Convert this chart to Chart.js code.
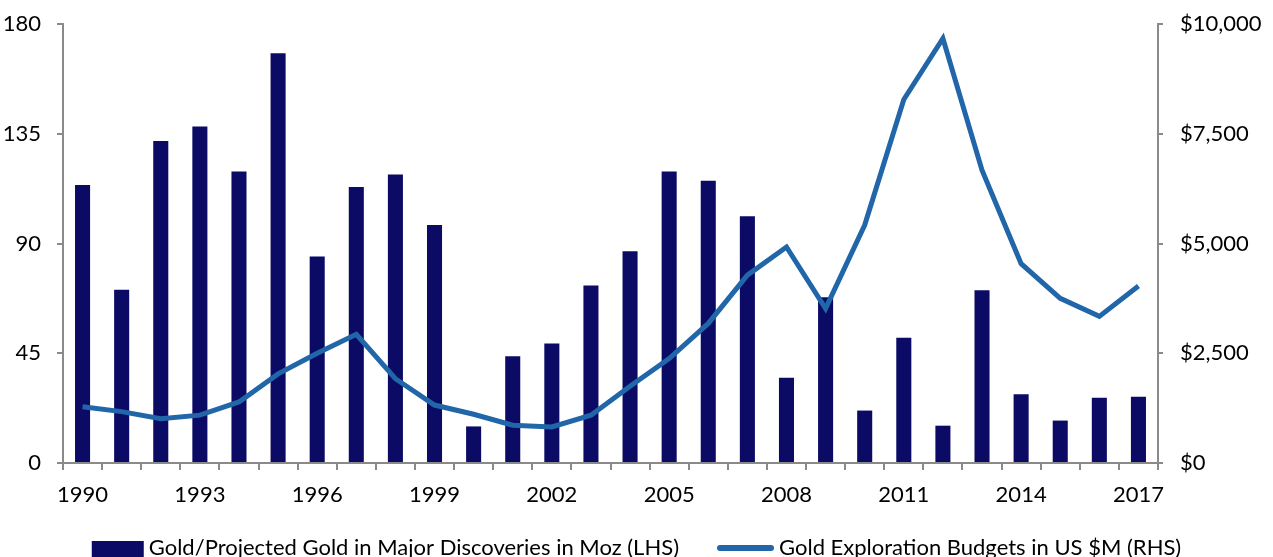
<!DOCTYPE html>
<html>
<head>
<meta charset="utf-8">
<script src="https://cdn.jsdelivr.net/npm/chart.js@4/dist/chart.umd.min.js"></script>
<style>
  html, body { margin: 0; padding: 0; background: #ffffff; }
  #wrap { width: 1273px; height: 557px; }
</style>
</head>
<body>
<div id="wrap"><canvas id="c" width="1273" height="557"></canvas></div>
<script>
// Years on the category axis
const years = ['1990','1991','1992','1993','1994','1995','1996','1997','1998','1999',
               '2000','2001','2002','2003','2004','2005','2006','2007','2008','2009',
               '2010','2011','2012','2013','2014','2015','2016','2017'];

// Gold / projected gold in major discoveries, Moz (left axis)
const discoveriesMoz = [114, 71, 132, 138, 119.5, 168, 84.7, 113.2, 118.3, 97.6,
                        15, 43.8, 49, 72.8, 86.8, 119.5, 115.7, 101.2, 35, 68,
                        21.5, 51.4, 15.3, 70.8, 28.2, 17.4, 26.8, 27.2];

// Gold exploration budgets, US $M (right axis)
const budgetsUSDm = [1280, 1170, 1010, 1090, 1390, 2030, 2500, 2930, 1920, 1320,
                     1110, 860, 820, 1090, 1750, 2380, 3180, 4280, 4920, 3520,
                     5420, 8280, 9670, 6670, 4540, 3750, 3340, 4030];

// Axis tick values
const leftTicks = [0, 45, 90, 135, 180];
const rightTicks = [0, 2500, 5000, 7500, 10000];
const yearLabelStep = 3;

const seriesNames = ['Gold/Projected Gold in Major Discoveries in Moz (LHS)',
                     'Gold Exploration Budgets in US $M (RHS)'];

const NAVY = '#0b0b66';
const BLUE = '#2166a8';
const AXIS = '#8a8a8a';
const FONT = 'Lato';
const FONT_SIZE = 22;

// Legend drawn along the bottom edge, centred on the canvas
const bottomLegend = {
  id: 'bottomLegend',
  afterDraw(chart) {
    const ctx = chart.ctx;
    ctx.save();
    ctx.font = FONT_SIZE + 'px ' + FONT;
    ctx.textBaseline = 'alphabetic';
    const sw1 = 52, sw2 = 57, gapText = 5, gapItems = 38;
    const t1 = ctx.measureText(seriesNames[0]).width;
    const t2 = ctx.measureText(seriesNames[1]).width;
    const total = sw1 + gapText + t1 + gapItems + sw2 + gapText + t2;
    let x = chart.width / 2 - total / 2;
    const baseY = 555;
    // bar swatch
    ctx.fillStyle = NAVY;
    ctx.fillRect(x, 541, sw1, 20);
    x += sw1 + gapText;
    ctx.fillStyle = '#000';
    ctx.fillText(seriesNames[0], x, baseY);
    x += t1 + gapItems;
    // line swatch
    ctx.strokeStyle = BLUE;
    ctx.lineWidth = 6;
    ctx.lineCap = 'round';
    ctx.beginPath();
    ctx.moveTo(x + 3, 548);
    ctx.lineTo(x + sw2 - 3, 548);
    ctx.stroke();
    x += sw2 + gapText;
    ctx.fillText(seriesNames[1], x, baseY);
    ctx.restore();
  }
};

const tickFont = { family: FONT, size: FONT_SIZE };

// Fixed axis box sizes so the plot area sits where intended
const LEFT_AXIS_W = 63, RIGHT_AXIS_W = 115, X_AXIS_H = 94;

new Chart(document.getElementById('c'), {
  type: 'bar',
  data: {
    labels: years,
    datasets: [
      {
        type: 'bar',
        label: seriesNames[0],
        data: discoveriesMoz,
        backgroundColor: NAVY,
        borderWidth: 0,
        barPercentage: 0.385,
        categoryPercentage: 1.0,
        yAxisID: 'yL',
        order: 2
      },
      {
        type: 'line',
        label: seriesNames[1],
        data: budgetsUSDm,
        borderColor: BLUE,
        backgroundColor: BLUE,
        borderWidth: 5,
        pointRadius: 0,
        tension: 0,
        fill: false,
        yAxisID: 'yR',
        order: 1
      }
    ]
  },
  options: {
    responsive: false,
    devicePixelRatio: 1,
    animation: false,
    layout: { padding: { left: 0, right: 0, top: 24, bottom: 0 } },
    plugins: {
      legend: { display: false },
      tooltip: { enabled: false }
    },
    scales: {
      x: {
        offset: true,
        afterFit: a => { a.height = X_AXIS_H; a.paddingLeft = 0; a.paddingRight = 0; },
        grid: {
          offset: true,
          drawOnChartArea: false,
          drawTicks: true,
          tickLength: 7,
          color: AXIS,
          lineWidth: 2
        },
        border: { color: AXIS, width: 2 },
        ticks: {
          autoSkip: false,
          maxRotation: 0,
          minRotation: 0,
          padding: 12,
          color: '#000',
          font: tickFont,
          callback: (v, i) => (i % yearLabelStep === 0 ? years[i] : '')
        }
      },
      yL: {
        position: 'left',
        min: 0,
        max: 180,
        afterBuildTicks: axis => { axis.ticks = leftTicks.map(v => ({ value: v })); },
        afterFit: a => { a.width = LEFT_AXIS_W; a.paddingTop = 0; a.paddingBottom = 0; },
        grid: { drawOnChartArea: false, tickLength: 6, color: AXIS, lineWidth: 2 },
        border: { color: AXIS, width: 2 },
        ticks: { padding: 16, color: '#000', font: tickFont }
      },
      yR: {
        position: 'right',
        min: 0,
        max: 10000,
        afterBuildTicks: axis => { axis.ticks = rightTicks.map(v => ({ value: v })); },
        afterFit: a => { a.width = RIGHT_AXIS_W; a.paddingTop = 0; a.paddingBottom = 0; },
        grid: { drawOnChartArea: false, tickLength: 5, color: AXIS, lineWidth: 2 },
        border: { color: AXIS, width: 2 },
        ticks: {
          padding: 17,
          color: '#000',
          font: tickFont,
          callback: v => '$' + v.toLocaleString('en-US')
        }
      }
    }
  },
  plugins: [bottomLegend]
});
</script>
</body>
</html>
